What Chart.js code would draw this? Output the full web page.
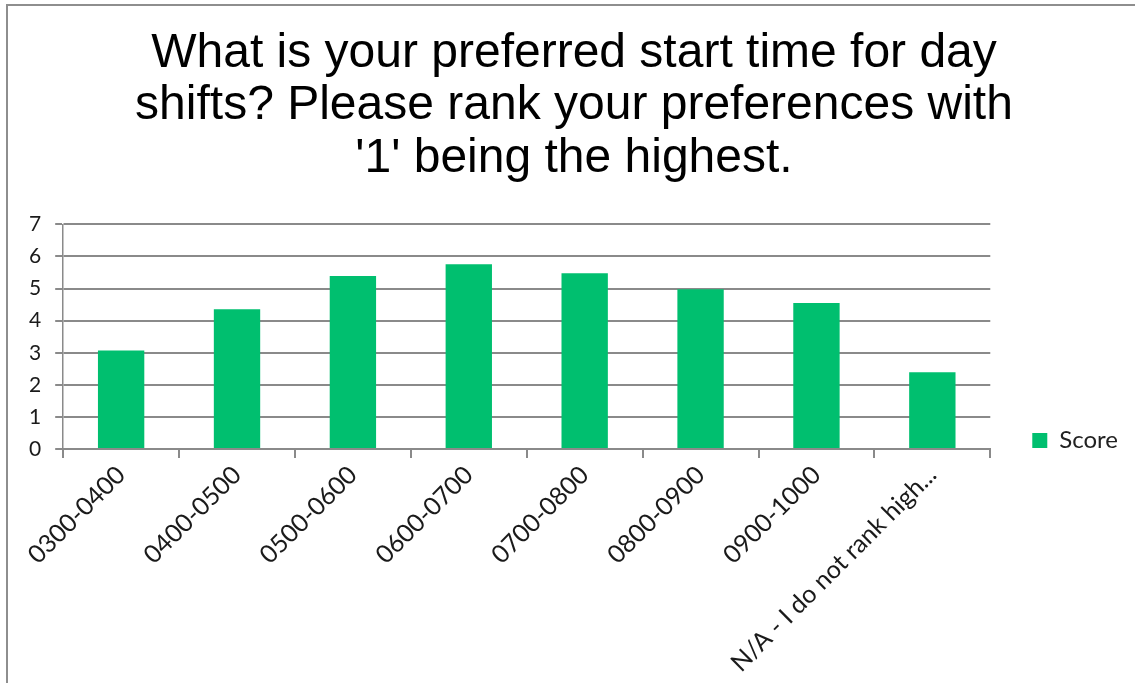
<!DOCTYPE html>
<html>
<head>
<meta charset="utf-8">
<script src="https://cdn.jsdelivr.net/npm/chart.js@4/dist/chart.umd.min.js"></script>
<style>
  html, body { margin: 0; padding: 0; background: #ffffff; }
  #wrap { position: relative; width: 1135px; height: 683px; overflow: hidden; }
  #frame { position: absolute; left: 6px; top: 4px; right: -10px; bottom: -10px;
           border-left: 2px solid #8e8e8e; border-top: 2px solid #8e8e8e; pointer-events: none; }
  canvas { position: absolute; left: 0; top: 0; }
</style>
</head>
<body>
<div id="wrap">
  <canvas id="chart" width="1135" height="683"></canvas>
  <div id="frame"></div>
</div>
<script>
// Survey results: average score per preferred day-shift start time
const titleLines = [
  "What is your preferred start time for day",
  "shifts? Please rank your preferences with",
  "'1' being the highest."
];
const categories = [
  "0300-0400", "0400-0500", "0500-0600", "0600-0700",
  "0700-0800", "0800-0900", "0900-1000", "N/A - I do not rank high..."
];
const seriesName = "Score";
const scores = [3.07, 4.36, 5.39, 5.76, 5.48, 4.98, 4.55, 2.39];
const yTicks = [0, 1, 2, 3, 4, 5, 6, 7];

const GREEN = "#00BF6F";
const GRID = "#8a8a8a";
const LABEL_FONT = "Lato, 'Noto Sans', sans-serif";

const LEGEND_FONT_SIZE = 24;
const LEGEND_BOX = 15;
const LEGEND_PAD = 47;

// Places the legend entry just right of the plot, level with its lower edge.
const legendPlacer = {
  id: "legendPlacer",
  afterLayout(chart) {
    const lg = chart.legend;
    const area = chart.chartArea;
    if (!lg || !area) return;
    const itemH = Math.max(LEGEND_FONT_SIZE, LEGEND_BOX);
    const boxLeft = lg.left + LEGEND_PAD;
    const boxTop = lg.bottom - (itemH + LEGEND_PAD) + (itemH - LEGEND_BOX) / 2;
    const dx = (area.right + 42) - boxLeft;
    const dy = (area.bottom - 16) - boxTop;
    lg.left += dx; lg.right += dx;
    lg.top += dy; lg.bottom += dy;
  }
};

new Chart(document.getElementById("chart"), {
  type: "bar",
  data: {
    labels: categories,
    datasets: [{
      label: seriesName,
      data: scores,
      backgroundColor: GREEN,
      borderWidth: 0,
      barPercentage: 0.4,
      categoryPercentage: 1.0
    }]
  },
  plugins: [legendPlacer],
  options: {
    responsive: false,
    animation: false,
    layout: { padding: { left: 15, right: 2, top: 6, bottom: 3 } },
    plugins: {
      title: {
        display: true,
        text: titleLines,
        color: "#000000",
        font: { family: "'Liberation Sans', Arial, sans-serif", size: 48, weight: "normal", lineHeight: 1.1 },
        padding: { top: 21, bottom: 39 }
      },
      legend: {
        display: true,
        position: "right",
        align: "end",
        fullSize: false,
        labels: {
          color: "#222222",
          boxWidth: LEGEND_BOX,
          boxHeight: LEGEND_BOX,
          padding: LEGEND_PAD,
          font: { family: LABEL_FONT, size: LEGEND_FONT_SIZE }
        }
      },
      tooltip: { enabled: false }
    },
    scales: {
      x: {
        offset: true,
        grid: {
          offset: true,
          drawOnChartArea: false,
          drawTicks: true,
          tickLength: 9,
          color: GRID,
          lineWidth: 2
        },
        border: { display: true, color: GRID, width: 2 },
        ticks: {
          autoSkip: false,
          maxRotation: 45,
          minRotation: 45,
          padding: 2,
          color: "#1a1a1a",
          font: { family: LABEL_FONT, size: 25 }
        }
      },
      y: {
        min: 0,
        max: 7,
        afterBuildTicks: (scale) => { scale.ticks = yTicks.map(v => ({ value: v })); },
        grid: {
          color: GRID,
          lineWidth: 2,
          drawTicks: true,
          tickLength: 8
        },
        border: { display: true, color: GRID, width: 1.5 },
        ticks: {
          padding: 14,
          color: "#1a1a1a",
          font: { family: LABEL_FONT, size: 21 }
        }
      }
    }
  }
});
</script>
</body>
</html>
